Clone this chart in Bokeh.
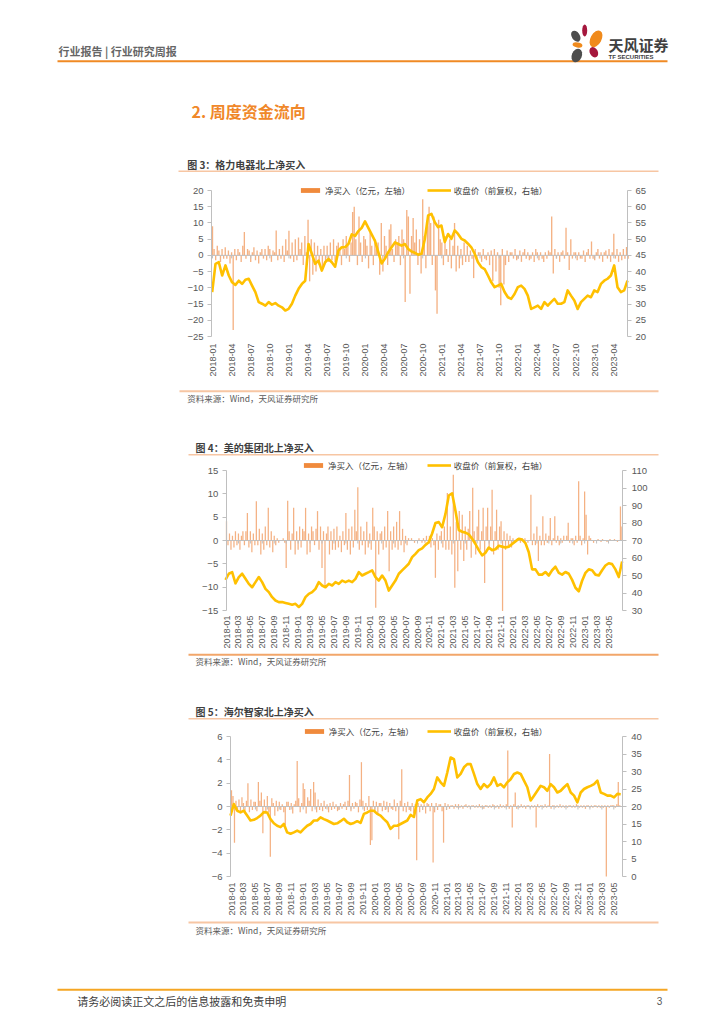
import numpy as np
from math import pi
from bokeh.plotting import figure
from bokeh.models import Range1d, LinearAxis, FixedTicker, Legend, LegendItem, AllLabels
from bokeh.core.properties import value
from bokeh.embed import file_html
from bokeh.resources import INLINE

CJK = "Noto Sans CJK SC"
NUM = "Liberation Sans"
TXT = "#595959"
AX = "#BFBFBF"
BAR = "#ED7D31"
GOLD = "#FFC000"
CAP = "#3F3F3F"
PEACH = "#F7C6A3"
WEEK = 0.25  # bar spacing in months (weekly readings)

# ---------------- data ----------------
quarter_labels = ["2018-01", "2018-04", "2018-07", "2018-10", "2019-01", "2019-04", "2019-07", "2019-10",
                  "2020-01", "2020-04", "2020-07", "2020-10", "2021-01", "2021-04", "2021-07", "2021-10",
                  "2022-01", "2022-04", "2022-07", "2022-10", "2023-01", "2023-04"]
bimonth_labels = ["%d-%02d" % (y, m) for y in range(2018, 2024) for m in (1, 3, 5, 7, 9, 11)][:33]

gree_left_ticks = [-25, -20, -15, -10, -5, 0, 5, 10, 15, 20]
gree_right_ticks = [20, 25, 30, 35, 40, 45, 50, 55, 60, 65]
midea_left_ticks = [-15, -10, -5, 0, 5, 10, 15]
midea_right_ticks = [30, 40, 50, 60, 70, 80, 90, 100, 110]
haier_left_ticks = [-6, -4, -2, 0, 2, 4, 6]
haier_right_ticks = [0, 5, 10, 15, 20, 25, 30, 35, 40]

# closing price (forward adjusted), regular samples over the span (months since 2018-01)
gree_span = (-0.05, 65.15)
gree_price = [
    33.7, 42.4, 42.9, 38.8, 41.9, 38.8, 36.7, 35.9, 37.2, 36.2,
    37.5, 37.8, 35.7, 33.7, 30.6, 30.1, 29.5, 30.6, 29.8, 30.3,
    29.5, 29.0, 28.0, 28.5, 30.1, 32.6, 34.7, 36.2, 37.2, 48.5,
    45.5, 42.4, 43.4, 40.3, 42.9, 43.9, 42.9, 41.5, 46.5, 47.5,
    47.5, 48.5, 51.5, 51.0, 52.5, 53.5, 55.5, 53.5, 51.5, 49.5,
    46.0, 42.5, 44.0, 46.0, 47.5, 49.0, 48.5, 48.0, 48.5, 47.0,
    46.2, 45.8, 45.2, 45.5, 50.0, 57.3, 57.8, 55.2, 53.7, 54.2,
    49.1, 51.6, 50.1, 52.7, 51.6, 50.1, 49.6, 48.6, 47.5, 45.5,
    42.9, 41.4, 40.8, 38.8, 36.7, 35.2, 35.7, 36.2, 33.7, 32.1,
    31.6, 33.1, 35.2, 35.7, 34.7, 32.6, 28.5, 29.0, 29.5, 28.5,
    30.6, 29.5, 30.6, 31.6, 30.1, 30.1, 30.6, 34.2, 32.6, 31.1,
    28.5, 30.6, 31.6, 32.6, 32.1, 34.2, 33.7, 36.2, 37.2, 37.8,
    38.8, 41.9, 35.2, 33.7, 34.2, 37.2]
# northbound net buy, 100m CNY, weekly readings
gree_net = [
    9, 2, -1.5, 3, 1.5, -2, 2, -1, 2.5, -1, 1.5, -2.5, 1, -23, 2, -1.5,
    2, 1, -2, 3, 7.2, -1, 2, 1.5, -2, 1, 2.5, -1.5, 1.5, -2.5, 1, 2,
    -1, 2, -1.5, 3, 2, -2, 1.5, 1, 7.7, -1.5, 2, -1, 3, -2, 5, 1.5,
    7.6, -1, 4, -2, 5, -1.5, 5.5, 2, 4, -3, 6, 1, 11, -8, 5, -6,
    4, -5, 3, -3, 2, -4, 3, -2, 3, -2, 4, -1.5, 5, -2, 3, 4,
    2, -3, 5, 2, 6, 3, -2, 4, 13.4, 15, 5, -3, 12, 4, -2, 6,
    5, 3, -4, 7, 3, -3, 5, 2, 4, -6, 10, -5, 6, 3, -3, 8,
    9.6, 2, -2, 5, 4, 6, -3, 8, 5, -14.4, 14, 12, -11.8, 6, 11.5, 4,
    8, -3, 5, -5.6, 17.3, 6, -4, 9, 15, 10, -3, 12, -10.8, -18, 11, 5,
    4, -3, 6, 2, -2, 5, -4, 3, 10, -5, 3, -4, 2, -3, 4, -2,
    3, -2, 1.5, -1, -7, 2, -1.5, 1, 1, -2, 2, -1, -1.5, 1, -3, 1.5,
    -8, 2, -5, 1, -10, -15.4, 2, -9, -3, 1.5, -2, 1, 1, -1, 2, -1.5,
    -1, 1.5, -2, 1, 2, -1, 1, -1.5, -1, 1, -2, 2, 1, -1.5, 1, -1,
    -2, 1, -1, 1.5, 1, 12, -5.6, 2, -1, 1, -2, 1, 1.5, -1, 8.5, 1,
    -4.5, 5, -1, 1, 1, -1.5, 1, -1, -1, 1.5, -2, 1, 2, -1, 4.3, -1,
    -1.5, 1, 2, -1, 1, -2, 1, 1.5, -1, 2, -2, 1, 6.7, -1, 2, -2,
    1, -1.5, 2, -1, 2.6, -1, 0, 0]

midea_span = (-0.17, 66.28)
midea_price = [
    47.5, 51.0, 51.9, 45.5, 49.1, 51.0, 48.1, 45.2, 43.3, 46.2,
    49.1, 46.2, 42.4, 40.5, 37.6, 35.7, 34.8, 34.8, 34.3, 33.8,
    33.3, 33.8, 32.0, 33.8, 37.6, 39.5, 40.5, 42.4, 46.2, 44.3,
    43.3, 45.2, 44.3, 46.2, 45.2, 47.1, 46.2, 47.1, 46.2, 48.1,
    51.9, 50.0, 51.0, 51.9, 52.9, 49.1, 47.1, 50.0, 47.1, 41.4,
    44.3, 47.1, 51.0, 52.9, 54.8, 56.7, 60.5, 62.4, 64.5, 65.5,
    67.5, 69.0, 74.0, 80.0, 80.5, 77.6, 85.2, 95.7, 97.0, 87.0,
    76.0, 75.0, 74.5, 73.5, 71.0, 68.0, 64.5, 61.5, 63.0, 66.0,
    64.5, 65.0, 67.0, 66.5, 66.0, 66.5, 68.0, 69.5, 71.0, 70.5,
    68.5, 63.3, 53.5, 53.5, 50.5, 50.5, 52.0, 50.0, 53.0, 55.0,
    51.5, 50.5, 52.0, 51.0, 47.5, 43.0, 41.0, 47.0, 51.5, 53.5,
    53.0, 50.5, 50.0, 53.0, 55.7, 57.0, 56.5, 53.5, 49.1, 58.0]
midea_net = [
    4.1, -1, 1.5, -2, 1, -1.5, 2, -1, 1.5, -2, 1, 2, -1, 2, 5.9, -1.5,
    2, -2.5, 1.5, -1, 8.4, -1, 2.5, -3, 1.5, -2, 3, -1, 7, -1.5, 2, -2.5,
    1, -1, 0.5, -0.5, 0, 0, 0.5, -0.5, -5.9, 8.5, 2, -2, 1.5, 7, -3, 2,
    -2, 3, -1.5, 2.5, 2, 7, -3, 1.5, -2.5, 3, 2, -1, 2.5, 6.3, -2, 3,
    -5.9, 2, -10.1, 1.5, 3, -3, 2, -2, 2.5, -2, 3, -1.5, 1, -2.5, 2, -1,
    5.9, -2, 2.5, -3, 3, -1.5, 6.6, 2, 11.4, -2, 3, -1, 2, -3, 4, -1.5,
    1.5, -2, 7, 3, -14.4, 2, -3, 1.5, 2, -2, 3, -1.5, 6.3, -6.6, 2, -2,
    3, -1.5, 4, -2, 6.3, -1, 2.5, -2.5, 1, -1, 0.5, 0, 0.5, 0, -0.5, 0,
    0, 0.5, 0, -0.5, 0.5, -0.5, 1, 0, 1, -1.5, 0.5, -1, -8, 1.5, -2, 1,
    2, -1.5, 3, -2, 10.2, -2, 3, -3, 14.1, -10.1, 4, -6.6, 6.3, -2, 5.5, -4.4,
    3, -2, 2.5, 6.3, -3.7, 11.3, 2, -3, 3, 6.6, -2, 2, 7, -9.1, 3, 7,
    -2, 3, 10.9, -3, 2, 6.6, -2, 3, 4.1, -15.1, 2, -2, 1.5, -1, 1, -1.5,
    0.5, -0.5, 0, 0.5, 0, -0.5, 0.5, 0, 0.5, 0, -0.5, 0, 9.8, -1, 1.5, -1,
    3, -4.4, 1, -1, 5.2, -1, 1.5, -0.5, 1, 4.8, -1, 0.5, 5.2, -0.5, 1, -1,
    0.5, -0.5, 1, 0, 1, 3.8, -0.5, 0.5, 0.5, -1, 1, -0.5, 12.7, 1, -1, 0.5,
    10.5, 5.5, -3, 1, 0.5, 0, -0.5, 0, 0, 0.3, 0, -0.3, 0.3, 0, 0, -0.3,
    0, 0.3, 0, 0, 0.3, 0, -0.3, 0, 7.3, 3, 0, 0]

haier_span = (-0.17, 65.16)
haier_price = [
    17.4, 20.7, 18.8, 18.3, 18.8, 17.4, 16.0, 16.2, 16.7, 17.4,
    18.4, 18.3, 16.4, 15.2, 14.5, 14.1, 15.0, 12.6, 12.2, 12.6,
    13.1, 12.6, 13.6, 14.5, 15.0, 16.0, 16.0, 16.9, 16.4, 16.0,
    15.5, 15.0, 15.2, 15.8, 16.5, 15.5, 15.0, 15.3, 15.8, 15.3,
    17.9, 18.3, 18.8, 18.8, 17.9, 17.4, 16.4, 15.5, 13.6, 14.5,
    14.5, 15.0, 15.5, 16.0, 17.6, 17.0, 21.7, 22.1, 21.2, 22.6,
    23.6, 25.0, 28.3, 26.9, 25.9, 29.7, 34.0, 33.5, 28.3, 29.3,
    31.2, 32.1, 32.1, 29.3, 26.4, 25.0, 26.4, 25.5, 26.4, 28.3,
    25.9, 26.4, 25.5, 26.9, 27.8, 29.3, 29.7, 29.3, 27.4, 25.5,
    21.7, 23.1, 24.5, 25.9, 25.5, 24.5, 26.4, 25.5, 24.0, 24.5,
    25.5, 26.4, 24.0, 23.1, 21.2, 24.0, 25.0, 25.5, 25.9, 26.4,
    27.4, 24.0, 23.6, 23.1, 23.1, 22.6, 23.6, 23.5]
haier_net = [
    1.4, 0.9, -3.1, 0.5, -0.5, 0.6, -0.4, 0.8, 0.3, -0.6, 0.5, 2.0, -0.5, 0.6, -0.3, 0.4,
    0.4, -0.4, 2.1, 0.5, 1.2, -2.3, 0.6, -0.5, 0.9, -0.5, -4.3, 0.7, 0.3, -0.8, 0.5, -0.4,
    0.4, -0.3, 0.2, -0.5, -1.6, 0.4, 0.4, -0.3, 0.3, -0.6, 0.2, 0.5, 3.9, 0.7, -0.5, 0.3,
    2.0, 1.5, -0.6, 0.8, 0.5, 1.5, -0.4, 2.1, 1.2, -0.5, 0.6, -0.3, 0.3, -0.4, 0.5, -0.2,
    0.2, -0.5, 0.3, -0.3, 0.4, -0.2, 0.2, -0.4, -0.3, 0.3, -0.2, 0.2, 0.4, -0.3, 0.5, 2.7,
    -0.4, 0.3, -0.2, 0.4, 0.3, -0.5, 0.6, 3.8, 0.5, -0.4, 0.3, -0.3, 0.9, -3.3, -2.9, 0.5,
    -0.5, 0.4, -0.6, 0.3, 0.3, -0.4, 0.5, -0.3, 0.4, -0.5, 0.3, -0.2, -0.3, 0.6, -0.4, 0.3,
    -2.8, 0.5, 3.2, -0.4, 0.3, -0.5, 0.4, -0.3, -0.4, 0.3, -0.6, 0.2, -4.6, 0.3, -0.5, 0.2,
    -0.3, 0.2, -0.6, 0.3, 0.2, -0.4, 0.3, -4.8, -0.5, 0.3, -0.3, 0.2, 0.2, -0.4, -3.1, 0.3,
    -0.3, 0.2, -0.2, 0.1, 0.1, -0.2, 0.2, -0.1, 0.2, -0.1, 0.1, -0.2, 0.1, 0.2, -0.1, 0.1,
    -0.2, 0.1, 0.1, -0.1, 0.1, -0.1, 0.2, -0.1, 0.1, -0.2, 0.1, 0.1, -0.1, 0.1, -0.1, 0.2,
    0.1, -0.1, 0.1, -0.2, 0.2, -0.1, 0.1, -0.1, 0.2, 4.8, -0.2, 0.1, -1.8, 0.2, 1.2, -0.2,
    0.1, -0.1, 0.2, -0.1, 0.1, -0.2, 0.1, 0.1, -0.1, 0.1, -0.1, 0.1, -1.8, 0.2, -0.1, 0.1,
    0.1, -0.1, 0.2, -0.1, 0.1, 4.5, -0.2, 0.1, 0.1, -0.1, 0.1, -0.1, 0.2, -0.1, 0.1, -0.1,
    0.1, -0.1, 0.1, 0.1, -0.1, 0.1, -0.1, 0.2, 0.1, -0.1, 0.1, -0.1, 0.1, -0.2, 0.1, 0.1,
    -0.1, 0.1, -0.1, 0.1, 0.1, -0.1, 0.1, -0.1, 0.1, -0.1, 0.1, -6.0, 0.1, -0.1, 0.1, 0.1,
    0.1, -0.1, 0.2, 2.1, 0.1, 0, 0, 0]

bar_legend = "净买入（亿元，左轴）"
line_legend = "收盘价（前复权，右轴）"
source_text = "资料来源：Wind，天风证券研究所"

# ---------------- page (one figure, page-pixel base scale) ----------------
PX0, PX1, PY0, PY1 = 0, 720, 0, 1020
p = figure(frame_width=PX1 - PX0, frame_height=PY1 - PY0,
           x_range=Range1d(PX0, PX1), y_range=Range1d(PY1, PY0),
           min_border=0, x_axis_location=None, y_axis_location=None,
           toolbar_location=None, output_backend="svg")
p.grid.visible = False
p.outline_line_color = None


def month_of(label):
    y, m = label.split("-")
    return (int(y) - 2018) * 12 + int(m) - 1


def ext(d0, d1, q0, q1, Q0, Q1):
    """linear map data d0->pixel q0, d1->pixel q1; return data at pixels Q0, Q1"""
    k = (d1 - d0) / (q1 - q0)
    return d0 + (Q0 - q0) * k, d0 + (Q1 - q0) * k


def txt(x, y, s, size, color, bold=False, font=CJK, align="left"):
    p.text(x=[x], y=[y], text=[s], text_font=value(font), text_font_size=value(size),
           text_font_style="bold" if bold else "normal", text_color=color,
           text_baseline="middle", text_align=align)


def hline(x0, x1, y, color, w):
    p.segment(x0=[x0], y0=[y], x1=[x1], y1=[y], line_color=color, line_width=w)


def style_num_axis(ax, standoff):
    ax.axis_line_color = AX
    ax.major_tick_line_color = AX
    ax.minor_tick_line_color = None
    ax.major_tick_out = 4
    ax.major_tick_in = 0
    ax.major_label_standoff = standoff
    ax.major_label_text_font = NUM
    ax.major_label_text_font_size = "9.5px"
    ax.major_label_text_color = TXT


def chart(name, L, R, T, B, xanchor, yl, yr, lticks, rticks, xlabels, price, pspan, net,
          xstand, rstand, leg_x1, leg_x2, leg_cy):
    ticks = [month_of(s) for s in xlabels]
    (m0, px0), (m1, px1) = xanchor
    xs, xe = ext(m0, m1, px0, px1, PX0, PX1)
    ls, le = ext(yl[0], yl[1], B, T, PY1, PY0)
    rs, re_ = ext(yr[0], yr[1], B, T, PY1, PY0)
    xn, ln, rn = name + "x", name + "l", name + "r"
    p.extra_x_ranges[xn] = Range1d(xs, xe)
    p.extra_y_ranges[ln] = Range1d(ls, le)
    p.extra_y_ranges[rn] = Range1d(rs, re_)
    xL = ext(m0, m1, px0, px1, L, R)

    xb = np.arange(len(net)) * WEEK
    p.vbar(x=xb, top=net, bottom=0, width=0.21, fill_color=BAR, fill_alpha=0.6, line_color=None,
           x_range_name=xn, y_range_name=ln)

    tl = 3.0 * (yl[1] - yl[0]) / (B - T)
    p.segment(x0=[xL[0]], y0=[0], x1=[xL[1]], y1=[0], line_color=AX, line_width=1,
              x_range_name=xn, y_range_name=ln)
    p.segment(x0=ticks, y0=[0] * len(ticks), x1=ticks, y1=[-tl] * len(ticks), line_color=AX,
              line_width=1, x_range_name=xn, y_range_name=ln)

    xp = np.linspace(pspan[0], pspan[1], len(price))
    lr = p.line(xp, price, line_color=GOLD, line_width=2.6, line_join="round",
                x_range_name=xn, y_range_name=rn)
    # zero-height bar: only carries the legend swatch style
    proxy = p.vbar(x=[0], top=[0], bottom=0, width=0.01, fill_color="#F08A3C", line_color=None,
                   x_range_name=xn, y_range_name=ln)

    xa = LinearAxis(x_range_name=xn, fixed_location=B, ticker=FixedTicker(ticks=ticks))
    xa.major_label_overrides = {t: s for t, s in zip(ticks, xlabels)}
    xa.major_label_orientation = pi / 2
    xa.axis_line_color = None
    xa.major_tick_line_color = None
    xa.minor_tick_line_color = None
    xa.major_tick_out = 0
    xa.major_tick_in = 0
    xa.major_label_standoff = xstand
    xa.major_label_text_font = NUM
    xa.major_label_text_font_size = "9px"
    xa.major_label_text_color = TXT
    xa.major_label_policy = AllLabels()
    p.add_layout(xa, "below")

    ya = LinearAxis(y_range_name=ln, fixed_location=L, ticker=FixedTicker(ticks=lticks), bounds=yl)
    style_num_axis(ya, 4)
    p.add_layout(ya, "left")

    ra = LinearAxis(y_range_name=rn, fixed_location=R, ticker=FixedTicker(ticks=rticks), bounds=yr)
    style_num_axis(ra, rstand)
    p.add_layout(ra, "right")

    for lx, label, rend in ((leg_x1, bar_legend, proxy), (leg_x2, line_legend, lr)):
        leg = Legend(items=[LegendItem(label=label, renderers=[rend])],
                     location=(lx - PX0, PY1 - (leg_cy + 3)),
                     orientation="horizontal", glyph_width=24, glyph_height=6, label_height=6,
                     label_standoff=3, padding=0, margin=0, spacing=0, border_line_color=None,
                     background_fill_alpha=0, label_text_font=CJK, label_text_font_size="8.5px",
                     label_text_color="#404040")
        p.add_layout(leg)


# header
txt(58, 50.7, "行业报告 | 行业研究周报", "11px", "#666666", bold=True)
hline(57, 667, 60.7, "#F08A24", 2)
p.ellipse(x=[575.3, 584.2, 595.5, 577.0, 593.3, 576.3], y=[35.7, 30.0, 38.3, 44.5, 51.7, 55.0],
          width=[8, 5, 11, 10, 8, 10], height=[12, 12, 18, 5, 11, 14],
          angle=[0.6, 0.0, -0.5, -0.2, 0.5, -0.4],
          fill_color=["#4D4D4D", "#A5173D", "#F08A1C", "#F08A1C", "#A5173D", "#4D4D4D"], line_color=None)
txt(608, 43.5, "天风证券", "15px", "#404040", bold=True)
txt(608, 56.5, "TF SECURITIES", "6px", "#404040", bold=True, font=NUM)
txt(191, 110, "2. 周度资金流向", "16px", "#F0882A", bold=True)

# chart 1
txt(186.7, 164, "图 3：格力电器北上净买入", "10px", CAP, bold=True)
hline(178, 658, 170.7, PEACH, 1.5)
chart("g", 211, 627, 190, 336, ((0, 212), (63, 613.3)), (-25, 20), (20, 65),
      gree_left_ticks, gree_right_ticks, quarter_labels, gree_price, gree_span, gree_net,
      7, 4, 298, 426.7, 193.3)
hline(179, 658, 390.7, PEACH, 2)
txt(186.7, 397.3, source_text, "8.5px", TXT)

# chart 2
txt(195, 447.3, "图 4：美的集团北上净买入", "10px", CAP, bold=True)
hline(188, 658, 454.3, PEACH, 1.5)
chart("m", 225.7, 622.3, 470, 610, ((0, 226), (64, 608)), (-15, 15), (30, 110),
      midea_left_ticks, midea_right_ticks, bimonth_labels, midea_price, midea_span, midea_net,
      5, 5, 301, 426.7, 467.7)
hline(188, 658, 654.3, "#F2A66A", 2)
txt(195, 660.7, source_text, "8.5px", TXT)

# chart 3
txt(195, 710.7, "图 5：海尔智家北上净买入", "10px", CAP, bold=True)
hline(188, 658, 718.3, PEACH, 1.5)
chart("h", 230, 621.7, 736, 876, ((0, 231), (64, 613.3)), (-6, 6), (0, 40),
      haier_left_ticks, haier_right_ticks, bimonth_labels, haier_price, haier_span, haier_net,
      6, 5, 301.7, 426.7, 734)
hline(188, 658, 922, PEACH, 2)
txt(195, 929, source_text, "8.5px", TXT)

# footer
hline(57, 667, 989.3, "#F5A623", 2)
txt(76.7, 1000.7, "请务必阅读正文之后的信息披露和免责申明", "11px", "#404040")
txt(659, 1000.5, "3", "10px", TXT, font=NUM, align="center")

open("out.html", "w").write(file_html(p, INLINE))
